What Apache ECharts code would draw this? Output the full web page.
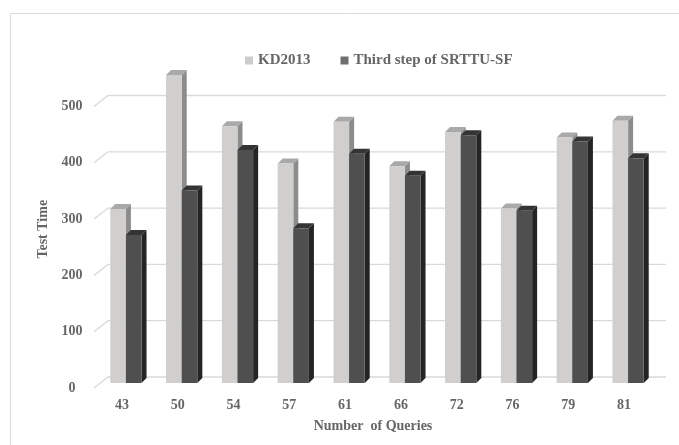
<!DOCTYPE html>
<html>
<head>
<meta charset="utf-8">
<script src="https://cdn.jsdelivr.net/npm/echarts@6/dist/echarts.min.js"></script>
<style>
  html, body { margin: 0; padding: 0; background: #fff; }
  #chart { width: 679px; height: 445px; }
</style>
</head>
<body>
<div id="chart"></div>
<script>
// datos
const consultas = ["43", "50", "54", "57", "61", "66", "72", "76", "79", "81"];
const kd2013 = [309, 547, 456, 390, 464, 385, 446, 310, 436, 466];
const srttu = [263, 342, 414, 275, 407, 368, 440, 306, 429, 399];
const marcasY = [0, 100, 200, 300, 400, 500];

const fuente = "'Liberation Serif', 'DejaVu Serif', serif";
const gris = "#666666";

const paletaKD = { front: "#d0cfcd", side: "#8c8c8c", top: "#a9a9a9" };
const paletaSR = { front: "#4f4f4f", side: "#242424", top: "#343434" };

// columna con cara lateral y superior (efecto 3D)
function barra3d(serie, pal) {
  return function (params, api) {
    const idx = api.value(0);
    const base = api.coord([idx, 0]);
    const tope = api.coord([idx, api.value(1)]);
    const banda = api.size([1, 0])[0];
    const w = banda * 0.28;
    const dx = 4, dy = 5, d = 5;
    const x0 = base[0] - w + dx + serie * w;
    const x1 = x0 + w;
    const yb = base[1] - dy;
    const yt = tope[1] - dy;
    return {
      type: "group",
      children: [
        { type: "polygon", shape: { points: [[x1, yb], [x1 + d, yb - d], [x1 + d, yt - d], [x1, yt]] }, style: { fill: pal.side } },
        { type: "polygon", shape: { points: [[x0, yt], [x0 + d, yt - d], [x1 + d, yt - d], [x1, yt]] }, style: { fill: pal.top } },
        { type: "rect", shape: { x: x0, y: yt, width: w, height: yb - yt }, style: { fill: pal.front } },
      ],
    };
  };
}

// lineas de la pared del fondo
function rejilla(params, api) {
  const y = api.coord([0, api.value(1)])[1];
  const cs = params.coordSys;
  return {
    type: "polyline",
    silent: true,
    shape: { points: [[cs.x, y], [cs.x + 14, y - 11], [cs.x + cs.width + 14, y - 11]] },
    style: { stroke: "#d9d9d9", lineWidth: 1.3, fill: null },
  };
}

var dom = document.getElementById("chart");
var myChart = echarts.init(dom, null, { renderer: "canvas" });

var option = {
  animation: false,
  backgroundColor: "#fff",
  graphic: [
    {
      type: "rect",
      silent: true,
      shape: { x: 10.5, y: 13.5, width: 700, height: 460 },
      style: { fill: null, stroke: "#d9d9d9", lineWidth: 1 },
    },
  ],
  legend: {
    left: 240,
    top: 48,
    itemWidth: 8,
    itemHeight: 8,
    itemGap: 30,
    icon: "rect",
    textStyle: { fontFamily: fuente, fontWeight: "bold", fontSize: 15, color: gris },
    data: [
      { name: "KD2013", itemStyle: { color: "#cdcdcd" } },
      { name: "Third step of SRTTU-SF", itemStyle: { color: "#6e6e6e" } },
    ],
  },
  grid: { left: 94, right: 27, top: 106.5, bottom: 57 },
  xAxis: {
    type: "category",
    data: consultas,
    axisLine: { show: false },
    axisTick: { show: false },
    axisLabel: { margin: 10, fontFamily: fuente, fontWeight: "bold", fontSize: 14, color: gris },
    name: "Number  of Queries",
    nameLocation: "middle",
    nameGap: 31,
    nameTextStyle: { fontFamily: fuente, fontWeight: "bold", fontSize: 14, color: gris },
  },
  yAxis: {
    type: "value",
    min: 0,
    max: 500,
    interval: 100,
    axisLine: { show: false },
    axisTick: { show: false },
    splitLine: { show: false },
    axisLabel: { align: "center", margin: 22, fontFamily: fuente, fontWeight: "bold", fontSize: 14, color: gris },
    name: "Test Time",
    nameLocation: "middle",
    nameGap: 42,
    nameTextStyle: { fontFamily: fuente, fontWeight: "bold", fontSize: 14, color: gris, padding: [0, 0, 0, 36] },
  },
  series: [
    {
      type: "custom",
      z: 1,
      silent: true,
      renderItem: rejilla,
      data: marcasY.map((v) => [0, v]),
      encode: { x: 0, y: 1 },
    },
    {
      name: "KD2013",
      type: "custom",
      z: 2,
      renderItem: barra3d(0, paletaKD),
      data: kd2013.map((v, i) => [i, v]),
      encode: { x: 0, y: 1 },
    },
    {
      name: "Third step of SRTTU-SF",
      type: "custom",
      z: 3,
      renderItem: barra3d(1, paletaSR),
      data: srttu.map((v, i) => [i, v]),
      encode: { x: 0, y: 1 },
    },
  ],
};

myChart.setOption(option);
</script>
</body>
</html>
